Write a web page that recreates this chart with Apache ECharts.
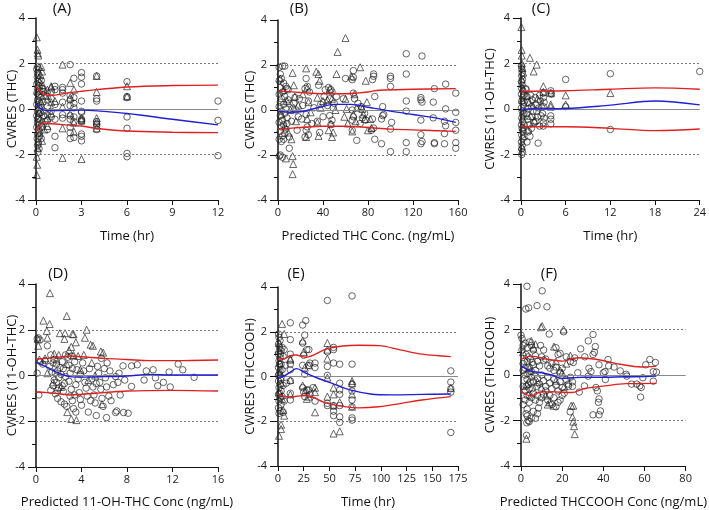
<!DOCTYPE html>
<html><head><meta charset="utf-8">
<script src="https://cdn.jsdelivr.net/npm/echarts@6/dist/echarts.min.js"></script>
<style>html,body{margin:0;padding:0;background:#fff}#c{width:709px;height:510px}</style>
</head><body><div id="c"></div>
<script>
// ---------- Panel A: CWRES (THC) vs Time ----------
const circlesA = [[0.05,1.75],[0.1,1.6],[0.15,1.5],[0.08,1.4],[0.2,1.3],[0.12,1.2],[0.05,1.1],[0.18,1.0],[0.1,0.9],[0.25,0.8],[0.06,0.7],[0.15,0.6],[0.3,0.5],[0.1,0.4],[0.2,0.3],[0.05,0.2],[0.15,0.1],[0.25,0.0],[0.1,-0.1],[0.2,-0.2],[0.05,-0.3],[0.15,-0.4],[0.3,-0.5],[0.1,-0.6],[0.2,-0.7],[0.05,-0.8],[0.15,-0.9],[0.25,-1.0],[0.1,-1.1],[0.2,-1.2],[0.08,-1.3],[0.15,-1.45],[0.1,-1.6],[0.2,-1.75],[0.12,-1.9],[0.15,-1.55],[0.35,1.25],[0.4,0.9],[0.45,0.3],[0.5,-0.3],[0.4,-0.8],[0.35,-1.3],[0.5,0.75],[0.55,-0.1],[0.6,-0.55],[0.1,1.85],[0.2,0.65],[0.1,-0.45],[0.3,-0.15],[0.3,0.15],
[0.75,0.55],[0.75,0.1],[0.75,-0.25],[0.75,-0.5],[0.75,-0.9],[1,0.75],[1,0.45],[1,-0.1],[1,-0.35],[1.25,1.0],[1.25,0.85],[1.25,-1.2],[1.25,-1.7],[1.25,0.2],[1.25,-0.45],
[1.75,0.95],[1.75,0.85],[1.75,0.7],[1.75,0.3],[1.75,-0.25],[1.75,-0.4],[2.25,1.95],[2.25,0.6],[2.25,0.4],[2.25,0.15],[2.25,-0.3],[2.25,-0.45],[2.25,-0.8],[2.25,-1.05],[2.25,-1.3],
[2.5,1.35],[2.5,0.5],[2.5,0.25],[2.5,0.05],[2.5,-0.35],[2.5,-0.55],[2.5,-1.25],[3,1.6],[3,1.4],[3,1.1],[3,0.35],[3,-0.1],[3,-0.15],[3,-0.45],[3,-0.5],[3,-0.55],[3,-1.1],[3,-1.2],[3,-1.4],
[4,1.45],[4,0.45],[4,0.35],[4,-0.55],[4,-0.65],[4,-0.75],[4,-0.9],[6,1.2],[6,0.55],[6,0.5],[6,-0.35],[6,-0.85],[6,-1.95],[6,-2.1],[12,0.35],[12,-0.5],[12,-2.05]];
const trianglesA = [[0.05,3.15],[0.1,2.6],[0.12,2.45],[0.15,2.35],[0.2,1.85],[0.35,1.85],[0.4,1.65],[0.3,1.5],[0.25,1.2],[0.45,1.05],[0.1,0.8],[0.3,0.35],[0.2,-0.15],[0.35,-0.6],[0.25,-1.05],[0.4,-1.4],[0.1,-1.7],[0.05,-2.1],[0.08,-2.45],[0.05,-2.9],[0.5,0.9],[0.6,0.6],[0.55,-0.9],
[0.75,0.85],[0.75,0.45],[0.75,-0.4],[0.75,-0.75],[1,0.95],[1,1.0],[1,0.3],[1,-0.2],[1.25,0.35],[1.75,1.95],[1.75,0.1],[1.75,-0.85],[1.75,-2.15],[2.25,1.15],[2.25,0.5],[2.25,-0.2],[2.5,0.85],[2.5,-0.6],[2.5,-1.0],[3,-0.4],[3,-0.5],[3,-2.2],[4,1.45],[4,0.75],[4,-0.4],[4,-0.55],[4,-0.85],[6,1.0],[6,0.55]];
const upperA = [[0,1.0],[0.5,0.65],[1,0.6],[2,0.7],[3,0.78],[4,0.85],[6,0.97],[9,1.03],[12,1.05]];
const medianA = [[0,0.25],[0.5,-0.05],[1,-0.07],[3,-0.05],[6,-0.2],[9,-0.45],[12,-0.7]];
const lowerA = [[0,-1.0],[0.5,-0.62],[1,-0.65],[3,-0.75],[4,-0.85],[6,-0.97],[9,-1.02],[12,-1.04]];

// ---------- Panel B: CWRES (THC) vs Predicted THC ----------
const circlesB = [[1,1.9],[4,1.95],[6,1.95],[2,1.6],[3,1.4],[1,1.3],[5,1.2],[7,1.05],[2,1.0],[8,0.95],[4,0.8],[1,0.7],[6,0.6],[3,0.5],[9,0.45],[2,0.35],[5,0.25],[1,0.15],[7,0.05],[3,-0.05],[6,-0.15],[2,-0.25],[8,-0.35],[4,-0.45],[1,-0.55],[5,-0.65],[3,-0.75],[7,-0.85],[2,-0.95],[6,-1.05],[4,-1.15],[1,-1.3],[3,-1.4],[5,-1.3],[2,-2.0],[4,-2.1],[1,-2.05],[10,-1.2],[10,-1.7],[9,0.9],[8,-0.6],[10,0.3],[12,-0.5],[14,0.3],[16,0.0],[18,-0.3],[15,0.55],[17,-0.9],[19,0.5],
[25,1.4],[26,1.05],[24,0.95],[27,0.4],[25,-0.2],[26,-0.75],[25,-0.9],[24,-1.2],[27,-1.1],[22,0.2],[21,-0.4],[28,0.8],[30,-0.6],[32,0.1],
[36,1.1],[38,0.25],[40,-0.3],[35,-0.5],[41,0.6],[37,-1.0],[42,0.9],[45,1.0],[47,0.9],[48,0.8],[46,0.5],[50,0.3],[49,0.1],[46,-0.25],[48,-0.45],[47,-0.65],[52,0.6],[44,0.2],
[60,1.4],[58,0.5],[67,1.75],[67,1.45],[66,1.35],[67,0.75],[68,0.5],[66,0],[67,-0.3],[66,-0.45],[66,-0.9],[70,-1.35],[71,0.3],[74,0.15],[75,-0.35],[73,-0.6],[78,-0.45],[77,-0.15],
[85,1.6],[85,1.5],[84,1.35],[86,0.6],[84,-0.4],[85,-0.8],[86,-1.3],[83,-0.9],[93,0.15],[94,-0.2],[93,-0.25],[92,-0.4],[92,-1.5],[100,1.5],[100,1.4],[100,1.05],[101,-0.55],[100,-0.85],[100,-1.85],
[114,2.5],[114,1.6],[114,0.4],[114,-0.05],[114,-1.45],[114,-1.85],[128,2.4],[127,0.55],[127,0.45],[128,0.35],[127,-0.45],[127,-1.1],[128,-1.4],[127,-1.5],[139,0.95],[138,0.35],[138,-0.35],[139,-1.45],[139,-1.5],[149,1.15],[149,0.05],[148,-0.5],[149,-0.7],[148,-1.05],[148,-1.5],[158,0.75],[158,-0.1],[158,-0.55],[158,-0.9],[158,-1.45],[158,-1.7]];
const trianglesB = [[2,1.4],[5,0.9],[8,0.4],[3,-0.2],[6,-0.7],[9,-1.0],[7,-2.15],[13,-2.05],[13.5,-2.4],[13,-2.85],[13,1.65],[14,1.1],[15,0.6],[14,0.1],[11,0.0],[12,-1.3],[16,-0.5],[18,0.2],
[25,1.85],[26,1.0],[27,0.35],[26,-0.4],[25,-1.2],[22,0.7],[29,-0.1],[34,1.7],[36,1.6],[37,1.3],[35,0.55],[38,0.1],[35,-0.55],[36,-1.15],[40,0.4],
[53,2.58],[46,0.95],[48,0.5],[47,-0.6],[49,-1.0],[48,-1.2],[45,-0.9],[51,0.0],[44,0.45],[52,1.6],[60,3.2],[60,0.5],[61,0.05],[59,-0.3],[62,-0.6],
[68,0.7],[67,-0.2],[70,0.1],[69,-0.5],[66,-0.95],[65,1.5],[73,1.9],[78,1.3],[74,0.15],[75,0.05],[76,-0.2],[77,-0.4],[79,0.35],[80,-0.9],[82,-0.4],[83,-0.8]];
const upperB = [[0,0.85],[20,0.78],[40,0.72],[60,0.72],[70,0.75],[80,0.8],[90,0.88],[120,0.92],[158,0.95]];
const medianB = [[0,-0.05],[10,-0.1],[20,-0.08],[35,0.1],[50,0.25],[65,0.25],[80,0.12],[100,-0.05],[120,-0.2],[140,-0.35],[158,-0.55]];
const lowerB = [[0,-0.85],[20,-0.78],[40,-0.72],[60,-0.72],[80,-0.78],[100,-0.85],[130,-0.9],[158,-0.95]];

// ---------- Panel C: CWRES (11-OH-THC) vs Time ----------
const circlesC = [[0.05,1.9],[0.1,1.75],[0.15,1.6],[0.1,1.45],[0.2,1.3],[0.05,1.2],[0.15,1.05],[0.1,0.9],[0.25,0.8],[0.05,0.65],[0.2,0.5],[0.1,0.35],[0.3,0.2],[0.05,0.05],[0.15,-0.1],[0.25,-0.25],[0.1,-0.4],[0.2,-0.55],[0.05,-0.7],[0.15,-0.85],[0.3,-1.0],[0.1,-1.15],[0.2,-1.3],[0.05,-1.45],[0.15,-1.6],[0.1,-1.75],[0.2,-1.9],[0.1,-2.0],[0.35,0.6],[0.4,-0.2],[0.45,-0.7],[0.4,0.3],
[0.6,0.9],[0.7,0.85],[0.8,0.55],[0.9,0.3],[1.0,0.0],[0.7,-0.2],[0.9,-0.45],[1.1,-0.7],[1.0,-1.0],[1.2,-1.2],[0.8,-1.45],[1.3,0.6],[1.5,0.4],[1.4,0.1],[1.6,-0.1],[1.5,-0.35],[1.7,-0.6],[1.4,-0.85],[1.9,0.5],[2.0,0.2],[2.1,-0.1],[2.2,-0.35],[2.0,-0.55],[2.3,-1.5],[2.5,0.6],[2.6,0.35],[2.4,0.05],[2.7,-0.3],[2.5,-0.75],[3.0,0.7],[3.0,0.5],[3.1,0.3],[3.0,0.1],[2.9,-0.2],[3.1,-0.4],[3.0,-0.6],[3.0,-0.75],
[4,0.8],[4,0.7],[4.1,0.65],[4,-0.3],[4,-0.45],[4,-0.65],[6,1.3],[6,0.1],[12,1.55],[12,-0.9],[24,1.65]];
const trianglesC = [[0.05,3.6],[0.08,2.6],[0.1,2.35],[0.12,2.0],[0.2,1.8],[0.3,1.6],[0.1,1.3],[0.25,0.9],[0.15,0.4],[0.3,-0.3],[0.2,-0.8],[0.35,-1.2],[0.1,-1.65],[1.2,2.25],[2.1,1.95],[1.7,1.65],[0.8,0.6],[1.1,0.3],[1.3,-0.3],[1.8,-0.5],[2.2,0.45],[0.9,-0.9],[1.6,0.15],[2.8,0.2],[3,1.0],[3,0.75],[4,0.7],[4,0.2],[4,0.1],[6,0.6],[6,0.2],[12,0.7]];
const upperC = [[0,0.75],[1,0.78],[6,0.8],[12,0.87],[18,0.93],[24,0.87]];
const medianC = [[0,-0.05],[1,0.0],[6,0.02],[12,0.17],[18,0.35],[24,0.18]];
const lowerC = [[0,-0.75],[1,-0.78],[6,-0.78],[12,-0.85],[18,-0.95],[24,-0.88]];

// ---------- Panel D: CWRES (11-OH-THC) vs Predicted 11-OH-THC ----------
const circlesD = [[0.1,1.6],[0.2,1.65],[0.35,1.55],[0.4,0.6],[0.25,-0.85],[0.1,0.1],[0.6,0.5],[0.8,0.65],[1.0,1.3],[1.3,0.9],[1.2,0.4],[1.4,0.15],[1.5,-0.45],[1.3,-0.65],[1.7,-0.8],[1.6,0.7],[1.8,0.5],[1.9,0.2],[2.0,-0.1],[1.8,-0.3],[2.0,-0.55],[1.9,-1.0],[2.2,-1.15],[2.3,0.6],[2.4,0.3],[2.2,0.05],[2.5,-0.35],[2.4,-0.7],[2.5,-1.25],[2.7,-1.35],[2.8,0.8],[2.9,0.45],[3.0,0.1],[2.9,-0.25],[3.1,-0.6],[3.0,-0.9],[3.2,-1.1],[3.3,-1.45],[3.5,-1.6],[3.4,0.6],[3.6,0.25],[3.7,-0.15],[3.5,-0.4],[3.8,-0.75],[3.9,-1.05],[4.0,-1.3],[4.1,0.55],[4.2,0.2],[4.3,-0.3],[4.4,-0.55],[4.5,-0.9],[4.6,-1.6],[4.7,0.3],[4.9,-0.15],[5.0,-0.5],[5.1,-0.85],[5.2,-1.2],[5.3,-1.75],[5.4,0.4],[5.5,0.1],[5.6,-0.3],[5.7,-0.6],[5.8,-1.0],[5.9,-1.35],[6.0,0.3],[6.1,-0.1],[6.2,-0.5],[6.25,0.55],[6.2,-1.84],[6.4,-0.9],[6.6,-1.1],[6.8,-0.4],[7.0,-1.62],[7.1,-1.55],[7.0,-0.05],[7.2,-0.3],[7.4,-0.85],[7.65,0.42],[7.7,-1.62],[7.8,-0.2],[8.1,-1.65],[8.4,0.42],[8.4,-0.48],[8.9,0.47],[9.5,-0.2],[9.7,0.2],[10.3,0.25],[10.5,-0.1],[10.7,-0.45],[11.2,-0.3],[11.7,0.15],[11.8,-0.5],[12.5,0.5],[12.9,0.25],[13.9,-0.08],[5.75,0.75],[6.5,0.2],[7.3,0.1],
[1.6,-0.2],[1.7,0.1],[2.1,0.35],[2.6,-0.05],[3.2,0.3],[3.4,-0.85],[3.9,0.05],[2.3,-0.45],[1.9,-0.65],[4.8,-1.1],[5.3,-0.35],[2.6,0.9],[3.1,0.85],[1.5,0.55]];
const trianglesD = [[1.23,3.6],[2.7,2.6],[0.65,2.4],[1.2,2.25],[0.95,1.95],[2.1,1.85],[2.55,1.85],[3.2,1.82],[3.3,1.8],[4.45,2.0],[2.5,1.6],[1.0,1.65],[0.2,1.3],[0.15,1.6],[4.3,1.65],[3.5,1.45],[4.8,1.35],[5.0,1.3],[3.1,1.25],[2.9,1.1],[5.7,1.05],[5.9,1.0],[1.6,0.95],[3.3,0.9],[2.0,0.9],[3.7,0.85],[4.2,0.9],[0.8,0.75],[1.8,0.7],[4.9,0.55],[0.3,0.7],[2.7,0.5],[1.0,0.1],[3.1,-1.9],[3.55,-1.95],[5.8,-1.25],[2.75,-1.6],[2.2,-0.5],[1.5,-0.3],[3.9,0.25],[4.6,-0.2],[5.2,0.0]];
const upperD = [[0,0.72],[1,0.75],[2,0.8],[3,0.85],[4,0.82],[6,0.75],[8,0.7],[10,0.65],[12,0.65],[16,0.68]];
const medianD = [[0,0.6],[1,0.35],[2,0.1],[3,-0.05],[4,-0.07],[6,-0.05],[8,-0.02],[10,0.05],[12,0.02],[16,0.02]];
const lowerD = [[0,-0.72],[1,-0.75],[2,-0.8],[3,-0.85],[4,-0.82],[6,-0.75],[8,-0.68],[12,-0.65],[16,-0.68]];

// ---------- Panel E: CWRES (THCCOOH) vs Time ----------
const circlesE = [[0.5,1.9],[1,1.75],[2,1.6],[0.5,1.45],[1.5,1.3],[3,1.15],[0.5,1.0],[2,0.85],[1,0.7],[3,0.55],[0.5,0.4],[2,0.25],[1,0.1],[3,-0.05],[0.5,-0.2],[2,-0.35],[1,-0.5],[3,-0.65],[0.5,-0.8],[2,-0.95],[1,-1.1],[3,-1.25],[0.5,-1.4],[2,-1.55],[1,-1.65],[4,1.3],[5,0.9],[4,0.3],[5,-0.4],[4,-0.9],[6,-1.1],[6,1.2],[5,-1.6],[7,0.5],[8,-0.3],[1.5,0.55],[2.5,-0.15],[1.5,-0.75],[2.5,1.0],[0.5,0.05],
[12,2.4],[12,1.65],[12,1.0],[12,0.55],[12,0.3],[12,-0.2],[12,-0.75],[12,-1.05],
[24,2.3],[27,2.5],[26,1.85],[24,1.5],[28,1.2],[25,0.95],[24,0.5],[26,0.1],[24,-0.5],[25,-0.7],[26,-0.9],[28,-0.6],
[30,1.2],[31,0.6],[30,0.5],[36,0.4],[36,0.6],[30,-0.6],[31,-0.8],[36,-1.1],[34,-0.5],
[48,3.4],[48,1.1],[48,0.45],[48,0.05],[48,-1.2],[48,-1.3],[54,1.3],[54,1.2],[54,0.6],[54,-1.3],[54,-1.55],[54,-1.75],
[60,0.55],[60,-0.3],[60,-0.6],[60,-0.8],[60,-1.3],[60,-1.8],[60,-2.05],[72,3.6],[72,0.55],[72,-0.35],[72,-0.65],[72,-1.05],[72,-1.35],[72,-1.85],[72,-1.95],
[168,0.25],[168,-0.25],[168,-0.55],[168,-0.7],[168,-2.5]];
const trianglesE = [[4,2.35],[6,1.9],[1,1.5],[2,0.6],[3,-0.3],[1,-0.7],[4,-1.0],[5,-1.5],[6,-1.75],[3,-2.15],[3,-2.35],[1,-2.65],[2,0.2],[0.5,1.2],
[12,0.8],[12,0.75],[12,-0.15],[12,-0.8],[24,1.6],[25,1.1],[26,0.4],[24,-0.4],[27,-0.6],[28,-1.0],[30,0.5],[36,-0.5],[36,-1.6],[36,-0.7],[30,-0.9],
[48,1.5],[48,1.2],[48,0.8],[48,-0.05],[48,-0.9],[54,-0.5],[54,-0.8],[54,-1.3],[54,-2.55],[60,-2.45],[60,-1.15],[72,-0.2],[72,-0.3],[72,-0.8],[72,-1.35],[168,-0.5]];
const upperE = [[0,0.78],[6,0.8],[12,0.93],[17,0.96],[27,0.86],[49,1.26],[78,1.4],[98,1.38],[120,1.18],[140,1.0],[168,0.89]];
const medianE = [[0,-0.05],[5,0.0],[12,0.2],[18,0.35],[27,0.15],[40,-0.1],[55,-0.35],[70,-0.6],[90,-0.78],[110,-0.82],[140,-0.8],[168,-0.78]];
const lowerE = [[0,-0.8],[12,-0.92],[18,-0.88],[27,-0.85],[48,-1.2],[78,-1.4],[98,-1.35],[120,-1.2],[140,-1.05],[168,-0.9]];

// ---------- Panel F: CWRES (THCCOOH) vs Predicted THCCOOH ----------
const circlesF = [[0,1.75],[0.5,1.6],[1,1.3],[0.5,1.1],[2,1.4],[3,1.2],[4,1.45],[5,1.3],[6,1.1],[2.5,0.9],[3.5,0.8],[4.5,0.7],[1.5,0.6],[5.5,0.55],[7,0.85],[8,0.6],[9,0.4],[10,0.8],[11,0.65],[12,0.7],[13,0.4],[14,0.3],[15,0.5],[16,0.2],[17,0.35],[18,0.9],[19,0.1],[20,0.3],
[1,0.2],[2,0.0],[3,-0.2],[4,0.1],[5,-0.1],[6,-0.3],[7,0.2],[8,-0.15],[9,-0.4],[10,0.0],[11,-0.25],[12,-0.5],[13,-0.1],[14,-0.35],[15,-0.6],[16,-0.2],[17,-0.45],[18,-0.7],[19,-0.3],[20,-0.55],[21,-0.8],[22,-0.2],[23,-0.4],[24,-0.1],[25,-0.3],[25,-0.5],
[1,-0.5],[2,-0.7],[3,-0.9],[4,-0.6],[5,-1.0],[6,-0.8],[7,-1.1],[8,-0.9],[9,-1.2],[10,-1.0],[11,-0.85],[12,-0.7],[13,-1.1],[14,-0.9],[15,-1.3],[16,-1.0],[17,-1.4],[18,-1.2],[19,-1.1],[20,-0.9],
[1,-1.3],[2,-1.1],[3,-1.5],[4,-1.2],[2.5,-1.7],[3,-1.8],[3.5,-2.0],[2.8,-2.1],[4,-2.05],[2.7,-2.65],[6,-1.6],[7,-1.9],[8,-1.7],[8.5,-1.45],[5,-1.9],
[2.9,3.9],[10.3,3.7],[2.35,2.9],[3.7,2.95],[7.8,3.05],[12.6,3.0],[13.7,1.8],[20.7,1.9],[19,0.95],[17,1.2],[9.5,1.3],[11,1.1],[23.9,-1.62],
[1,0.5],[2,0.3],[3,0.6],[4,0.35],[5,0.15],[6,0.45],[3.5,-0.4],[4.5,-0.3],[2.5,-0.5],[5.5,-0.6],[6.5,0.0],[7.5,-0.5],[3,0.05],[4,-0.9],
[26.1,0.75],[25.4,0.55],[27.6,0.1],[28.3,-0.75],[29,1.15],[30.8,-0.48],[32.7,1.5],[32.7,-0.05],[33,0.3],[35,1.78],[36.1,1.25],[35.7,1.0],[35,0.9],[34,0.15],[37.9,0.45],[37.1,-0.7],[36.4,-0.55],[37.6,-1.2],[37.9,-1.05],[38.6,-1.58],[35,-1.75],[37.9,-1.75],[40.8,0.15],[40,0.1],[42.3,0.68],[42.6,0.4],[41,-0.2],[45.2,0.35],[48.2,0.18],[51.1,0.03],[51.4,-0.05],[53.7,-0.4],[56.2,-0.4],[57.7,-0.48],[58.4,-0.55],[58.1,-0.97],[59.2,-0.12],[62.6,0.68],[64.3,0.15],[65.3,0.55],[65.8,0.13],[64.3,-0.27],[60.6,0.45],[31,0.8],[22,0.8],[24,0.6],[23,-0.5]];
const trianglesF = [[9.7,2.1],[10.3,2.15],[20.7,2.0],[1,1.0],[5,1.5],[7,1.35],[6,1.2],[16,1.25],[17,0.6],[4,0.3],[3,-0.4],[10,-0.55],[12,-0.9],[14,-1.2],[13,-1.3],[16,-1.35],[17,-0.25],[20,0.1],[22,0.5],[24.4,-1.35],[25.4,-1.35],[25,-1.85],[25.4,-2.05],[25.8,-2.25],[26.1,-2.6],[2.6,-2.8],[8,-0.3],[21,-0.5],[24,0.85],[19,0.2]];
const upperF = [[0,0.69],[4.8,0.83],[12.9,0.69],[20.3,0.61],[27.6,0.76],[36.4,0.69],[48.2,0.47],[58.4,0.35],[65.8,0.39]];
const medianF = [[0,0.4],[3,0.25],[6,0.15],[10,0.1],[15,0.0],[20,-0.15],[25,-0.12],[30,-0.1],[40,-0.1],[50,-0.08],[60,-0.07],[65.8,-0.05]];
const lowerF = [[0,-0.7],[4.8,-0.92],[10,-0.74],[16,-0.74],[24.7,-0.77],[30.5,-0.6],[40.8,-0.48],[51,-0.38],[65.8,-0.37]];

const yTicks = [-4, -2, 0, 2, 4];

const FONT = '"Open Sans", "Noto Sans", sans-serif';
const panels = [
  {label:'(A)', lx:62, ly:1, grid:{left:36, top:18, width:182, height:182}, xMax:12, xInt:3, xName:'Time (hr)', yName:'CWRES (THC)', xGap:30, yGap:17, c:circlesA, t:trianglesA, u:upperA, m:medianA, l:lowerA},
  {label:'(B)', lx:299, ly:1, grid:{left:278, top:20, width:180, height:180}, xMax:160, xInt:40, xName:'Predicted THC Conc. (ng/mL)', yName:'CWRES (THC)', xGap:30, yGap:21, c:circlesB, t:trianglesB, u:upperB, m:medianB, l:lowerB},
  {label:'(C)', lx:541, ly:1, grid:{left:521, top:18, width:181, height:182}, xMax:24, xInt:6, xName:'Time (hr)', yName:'CWRES (11-OH-THC)', xGap:30, yGap:24, c:circlesC, t:trianglesC, u:upperC, m:medianC, l:lowerC},
  {label:'(D)', lx:58, ly:266, grid:{left:36, top:284, width:182, height:183}, xMax:16, xInt:4, xName:'Predicted 11-OH-THC Conc (ng/mL)', yName:'CWRES (11-OH-THC)', xGap:29, yGap:17, c:circlesD, t:trianglesD, u:upperD, m:medianD, l:lowerD},
  {label:'(E)', lx:296, ly:266, grid:{left:278, top:287, width:180, height:180}, xMax:175, xInt:25, xName:'Time (hr)', yName:'CWRES (THCCOOH)', xGap:30, yGap:21, c:circlesE, t:trianglesE, u:upperE, m:medianE, l:lowerE},
  {label:'(F)', lx:549, ly:266, grid:{left:521, top:284, width:181, height:183}, xMax:80, xInt:20, xName:'Predicted THCCOOH Conc (ng/mL)', yName:'CWRES (THCCOOH)', xGap:30, yGap:24, c:circlesF, t:trianglesF, u:upperF, m:medianF, l:lowerF}
];

const option = {
  animation: false,
  backgroundColor: '#fff',
  textStyle: {fontFamily: FONT},
  grid: [], xAxis: [], yAxis: [], series: [],
  graphic: panels.map(p => ({type:'text', x:p.lx, y:p.ly, style:{text:p.label, font:'15px ' + FONT, fill:'#111', align:'center', verticalAlign:'top'}}))
};
const markerStyle = {color:'rgba(0,0,0,0)', borderColor:'#1e1e1e', borderWidth:0.85};
panels.forEach((p, i) => {
  option.grid.push(Object.assign({containLabel:false}, p.grid));
  option.xAxis.push({
    gridIndex:i, type:'value', min:0, max:p.xMax, interval:p.xInt,
    name:p.xName, nameLocation:'middle', nameGap:p.xGap, nameMoveOverlap:false,
    nameTextStyle:{fontSize:13, color:'#111', fontFamily:FONT},
    axisLine:{show:true, onZero:false, lineStyle:{color:'#111', width:1}},
    axisTick:{show:true, length:5, lineStyle:{color:'#111'}},
    axisLabel:{fontSize:11, color:'#1a1a1a', margin:7, fontFamily:FONT},
    splitLine:{show:false}
  });
  option.yAxis.push({
    gridIndex:i, type:'value', min:yTicks[0], max:yTicks[yTicks.length-1], interval:2,
    name:p.yName, nameLocation:'middle', nameGap:p.yGap, nameMoveOverlap:false,
    nameTextStyle:{fontSize:13, color:'#111', fontFamily:FONT},
    axisLine:{show:true, onZero:false, lineStyle:{color:'#111', width:1.5}},
    axisTick:{show:true, length:8, lineStyle:{color:'#111'}},
    minorTick:{show:true, splitNumber:2, length:4, lineStyle:{color:'#111'}},
    axisLabel:{fontSize:11, color:'#1a1a1a', margin:11, fontFamily:FONT},
    splitLine:{show:false}
  });
  option.series.push({
    type:'scatter', xAxisIndex:i, yAxisIndex:i, data:p.c, symbol:'circle', symbolSize:6.5,
    itemStyle:markerStyle, z:3,
    markLine:{silent:true, symbol:'none', label:{show:false}, animation:false,
      data:[
        {yAxis:2, lineStyle:{color:'#7a7a7a', type:[2,2], width:1}},
        {yAxis:0, lineStyle:{color:'#8a8a8a', type:'solid', width:1}},
        {yAxis:-2, lineStyle:{color:'#7a7a7a', type:[2,2], width:1}}
      ]}
  });
  option.series.push({
    type:'scatter', xAxisIndex:i, yAxisIndex:i, data:p.t, symbol:'triangle', symbolSize:7,
    itemStyle:markerStyle, z:3
  });
  [[p.u,'#e02020'],[p.l,'#e02020'],[p.m,'#1f1fd6']].forEach(([d,col]) => {
    option.series.push({type:'line', xAxisIndex:i, yAxisIndex:i, data:d, smooth:0.35, showSymbol:false, symbol:'none',
      lineStyle:{color:col, width:1.4}, z:5});
  });
});
const chart = echarts.init(document.getElementById('c'), null, {renderer:'canvas'});
chart.setOption(option);
</script>
</body></html>
